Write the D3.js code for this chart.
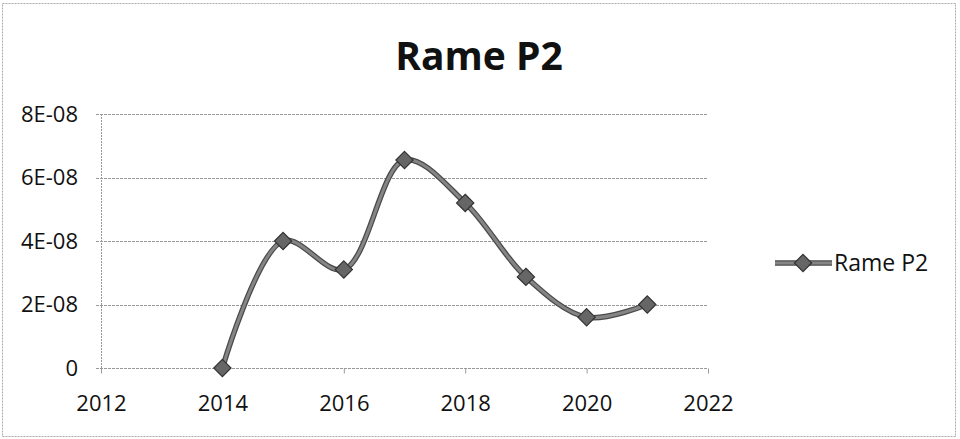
<!DOCTYPE html>
<html>
<head>
<meta charset="utf-8">
<script src="https://cdn.jsdelivr.net/npm/d3@7"></script>
<style>
  body { margin: 0; background: #fff; }
  svg { display: block; font-family: 'Open Sans', 'Noto Sans', sans-serif; }
</style>
</head>
<body>
<svg width="960" height="439"></svg>
<script>
// データ
var years = [2014, 2015, 2016, 2017, 2018, 2019, 2020, 2021];
var values = [0, 4.0e-8, 3.1e-8, 6.55e-8, 5.2e-8, 2.87e-8, 1.6e-8, 2.0e-8];
var seriesName = "Rame P2";
var xTicks = [2012, 2014, 2016, 2018, 2020, 2022];
var yTicks = [0, 2e-8, 4e-8, 6e-8, 8e-8];
var yTickLabels = ["0", "2E-08", "4E-08", "6E-08", "8E-08"];

var svg = d3.select("svg");

// 外枠
svg.append("rect")
    .attr("x", 2.5).attr("y", 3.5)
    .attr("width", 953).attr("height", 433)
    .attr("fill", "none")
    .attr("stroke", "#aaa")
    .attr("stroke-dasharray", "2,1");

// スケール
var x = d3.scaleLinear().domain([2012, 2022]).range([101, 708]);
var y = d3.scaleLinear().domain([0, 8e-8]).range([368, 114]);

// タイトル
svg.append("text")
    .attr("x", 479).attr("y", 70)
    .attr("text-anchor", "middle")
    .attr("font-size", 39)
    .attr("font-weight", "bold")
    .attr("fill", "#111")
    .text(seriesName);

// グリッド
svg.append("g").selectAll("line")
    .data(yTicks)
    .enter()
    .append("line")
    .attr("x1", x(2012) - 5).attr("x2", x(2022))
    .attr("y1", function(d){ return Math.round(y(d)) + 0.5; })
    .attr("y2", function(d){ return Math.round(y(d)) + 0.5; })
    .attr("stroke", "#999")
    .attr("stroke-dasharray", "3,1");

// y軸
svg.append("line")
    .attr("x1", x(2012) + 0.5).attr("x2", x(2012) + 0.5)
    .attr("y1", y(8e-8)).attr("y2", y(0) + 5)
    .attr("stroke", "#999")
    .attr("stroke-dasharray", "2,1");

var yAxis = d3.axisLeft(y)
    .tickValues(yTicks)
    .tickFormat(function(d, i){ return yTickLabels[i]; })
    .tickSize(0)
    .tickPadding(23);
var gy = svg.append("g")
    .attr("transform", "translate(" + x(2012) + ",0)")
    .call(yAxis);
gy.select(".domain").remove();
gy.selectAll("text")
    .attr("font-size", 22)
    .attr("font-family", "'Open Sans', sans-serif")
    .attr("fill", "#111");

// x軸
var xAxis = d3.axisBottom(x)
    .tickValues(xTicks)
    .tickFormat(d3.format("d"))
    .tickSize(5)
    .tickPadding(22);
var gx = svg.append("g")
    .attr("transform", "translate(0," + (Math.round(y(0)) + 0.5) + ")")
    .call(xAxis);
gx.select(".domain").remove();
gx.selectAll("line").attr("stroke", "#999");
gx.selectAll("text")
    .attr("font-size", 22)
    .attr("font-family", "'Open Sans', sans-serif")
    .attr("fill", "#111");

// 折れ線(スムージング)
var data = years.map(function(yr, i){ return [yr, values[i]]; });
var line = d3.line()
    .x(function(d){ return x(d[0]); })
    .y(function(d){ return y(d[1]); })
    .curve(d3.curveCatmullRom.alpha(0.5));

svg.append("path")
    .datum(data)
    .attr("d", line)
    .attr("fill", "none")
    .attr("stroke", "#4a4a4a")
    .attr("stroke-width", 5.5)
    .attr("stroke-linejoin", "round");
svg.append("path")
    .datum(data)
    .attr("d", line)
    .attr("fill", "none")
    .attr("stroke", "#858585")
    .attr("stroke-width", 3);

// マーカー
var diamond = d3.symbol().type(d3.symbolDiamond2).size(190);
svg.append("g").selectAll("path")
    .data(data)
    .enter()
    .append("path")
    .attr("d", diamond)
    .attr("transform", function(d){ return "translate(" + x(d[0]) + "," + y(d[1]) + ")"; })
    .attr("fill", "#666")
    .attr("stroke", "#333")
    .attr("stroke-width", 1.2);

// 凡例
var lg = svg.append("g");
lg.append("line")
    .attr("x1", 775).attr("x2", 832)
    .attr("y1", 263).attr("y2", 263)
    .attr("stroke", "#4a4a4a")
    .attr("stroke-width", 5.5);
lg.append("line")
    .attr("x1", 775).attr("x2", 832)
    .attr("y1", 263).attr("y2", 263)
    .attr("stroke", "#858585")
    .attr("stroke-width", 3);
lg.append("path")
    .attr("d", diamond)
    .attr("transform", "translate(803,263)")
    .attr("fill", "#666")
    .attr("stroke", "#333")
    .attr("stroke-width", 1.2);
lg.append("text")
    .attr("x", 834).attr("y", 271)
    .attr("font-size", 23)
    .attr("fill", "#111")
    .text(seriesName);
</script>
</body>
</html>
